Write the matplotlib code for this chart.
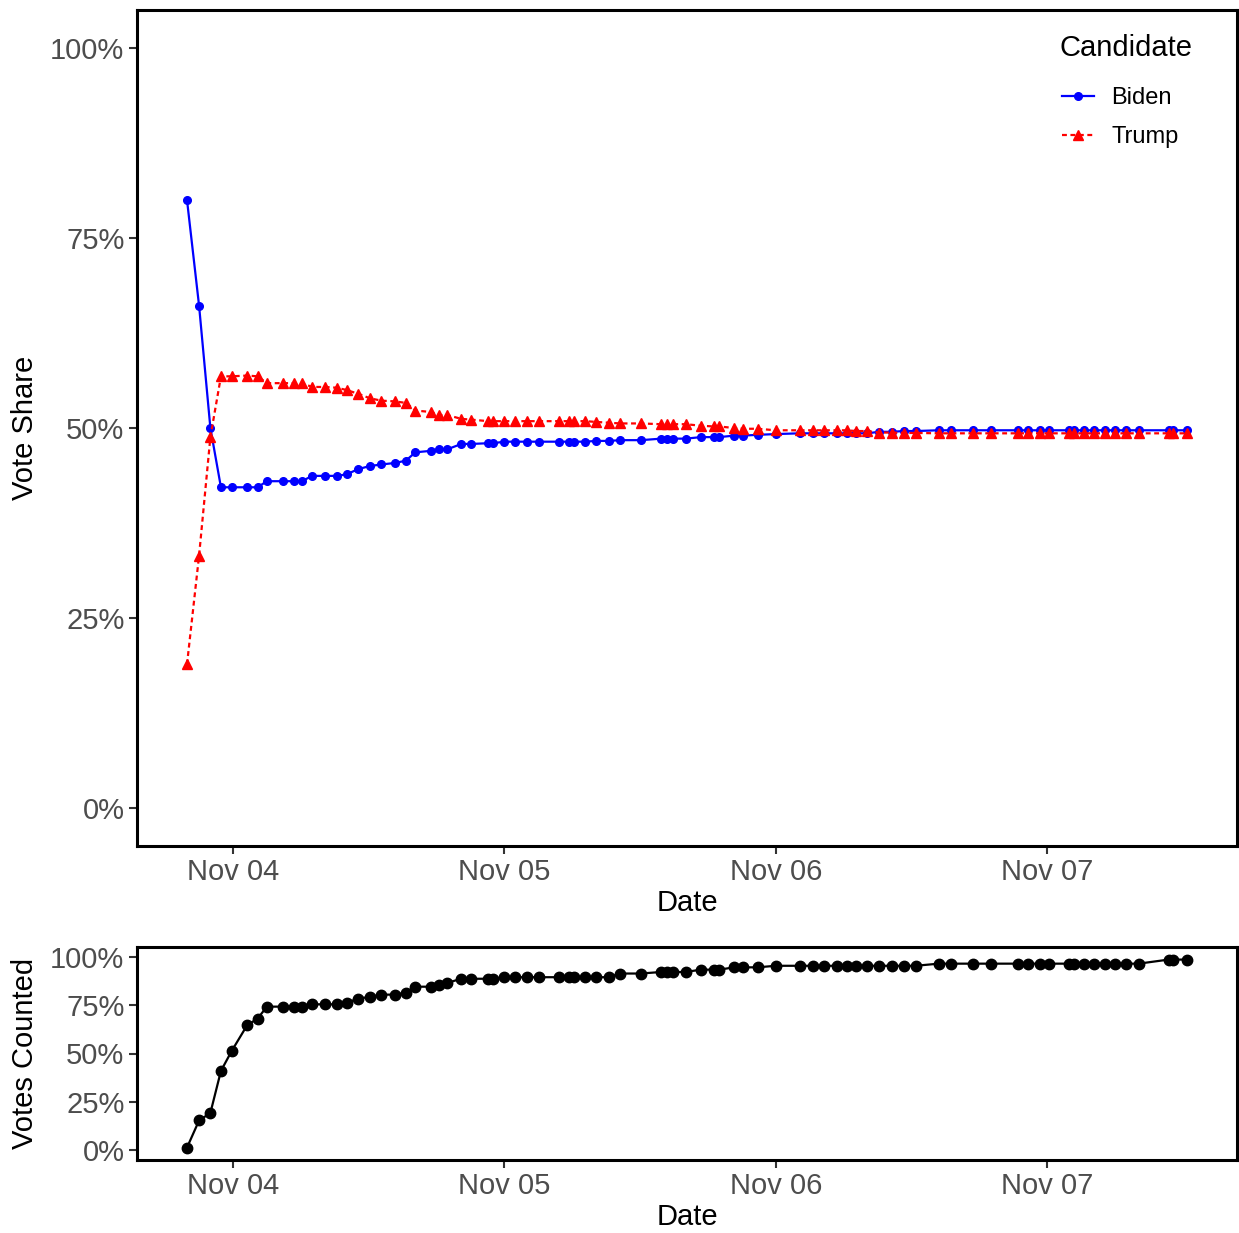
import numpy as np
import pandas as pd
import matplotlib
matplotlib.use("Agg")
import matplotlib.pyplot as plt
import matplotlib.dates as mdates
from matplotlib.ticker import FuncFormatter

plt.rcParams['font.family'] = ['Liberation Sans', 'DejaVu Sans']

# reporting timestamps
times = [
    "2020-11-03 19:56", "2020-11-03 21:00", "2020-11-03 22:00", "2020-11-03 22:56",
    "2020-11-03 23:53", "2020-11-04 01:15", "2020-11-04 02:10", "2020-11-04 03:00",
    "2020-11-04 04:25", "2020-11-04 05:25", "2020-11-04 06:05", "2020-11-04 07:00",
    "2020-11-04 08:07", "2020-11-04 09:11", "2020-11-04 10:02", "2020-11-04 11:05",
    "2020-11-04 12:07", "2020-11-04 13:07", "2020-11-04 14:19", "2020-11-04 15:17",
    "2020-11-04 16:07", "2020-11-04 17:32", "2020-11-04 18:12", "2020-11-04 18:57",
    "2020-11-04 20:11", "2020-11-04 21:04", "2020-11-04 22:34", "2020-11-04 23:00",
    "2020-11-05 00:00", "2020-11-05 00:58", "2020-11-05 02:00", "2020-11-05 03:02",
    "2020-11-05 04:51", "2020-11-05 05:40", "2020-11-05 06:07", "2020-11-05 07:09",
    "2020-11-05 08:05", "2020-11-05 09:12", "2020-11-05 10:14", "2020-11-05 12:04",
    "2020-11-05 13:51", "2020-11-05 14:21", "2020-11-05 14:56", "2020-11-05 16:02",
    "2020-11-05 17:21", "2020-11-05 18:33", "2020-11-05 18:58", "2020-11-05 20:19",
    "2020-11-05 21:07", "2020-11-05 22:23", "2020-11-05 23:58", "2020-11-06 02:07",
    "2020-11-06 03:17", "2020-11-06 04:16", "2020-11-06 05:21", "2020-11-06 06:14",
    "2020-11-06 07:04", "2020-11-06 08:03", "2020-11-06 09:07", "2020-11-06 10:13",
    "2020-11-06 11:19", "2020-11-06 12:21", "2020-11-06 14:23", "2020-11-06 15:26",
    "2020-11-06 17:25", "2020-11-06 19:02", "2020-11-06 21:23", "2020-11-06 22:19",
    "2020-11-06 23:18", "2020-11-07 00:07", "2020-11-07 01:53", "2020-11-07 02:23",
    "2020-11-07 03:16", "2020-11-07 04:09", "2020-11-07 05:05", "2020-11-07 05:58",
    "2020-11-07 06:59", "2020-11-07 08:04", "2020-11-07 10:42", "2020-11-07 11:04",
    "2020-11-07 12:20",
]

# vote share (%)
biden = [
    80.0, 66.1, 50.0, 42.2, 42.2, 42.2, 42.2, 43.0, 43.0, 43.0,
    43.0, 43.7, 43.7, 43.7, 43.9, 44.6, 45.0, 45.2, 45.4, 45.7,
    46.8, 47.0, 47.2, 47.2, 47.9, 47.9, 48.0, 48.0, 48.2, 48.2,
    48.2, 48.2, 48.2, 48.2, 48.2, 48.2, 48.3, 48.3, 48.4, 48.4,
    48.6, 48.6, 48.6, 48.6, 48.8, 48.8, 48.8, 49.0, 49.0, 49.1,
    49.2, 49.3, 49.3, 49.3, 49.3, 49.3, 49.3, 49.3, 49.5, 49.5,
    49.6, 49.6, 49.7, 49.7, 49.7, 49.7, 49.7, 49.7, 49.7, 49.7,
    49.7, 49.7, 49.7, 49.7, 49.7, 49.7, 49.7, 49.7, 49.7, 49.7,
    49.7,
]
trump = [
    18.9, 33.2, 48.8, 56.8, 56.8, 56.9, 56.8, 55.9, 55.9, 55.9,
    55.9, 55.4, 55.4, 55.3, 55.0, 54.5, 53.9, 53.6, 53.5, 53.3,
    52.3, 52.1, 51.7, 51.7, 51.2, 51.1, 50.9, 50.9, 50.9, 50.9,
    50.9, 50.9, 50.9, 50.9, 50.9, 50.9, 50.8, 50.7, 50.6, 50.6,
    50.5, 50.5, 50.5, 50.5, 50.3, 50.2, 50.2, 50.0, 49.9, 49.9,
    49.7, 49.7, 49.7, 49.7, 49.7, 49.7, 49.6, 49.6, 49.4, 49.4,
    49.35, 49.35, 49.3, 49.3, 49.3, 49.3, 49.3, 49.3, 49.3, 49.3,
    49.3, 49.3, 49.3, 49.3, 49.3, 49.3, 49.3, 49.3, 49.3, 49.3,
    49.3,
]

# share of expected votes counted (%)
counted = [
    1.4, 15.4, 19.3, 41.0, 51.3, 64.6, 68.0, 74.2, 74.2, 74.2,
    74.2, 75.4, 75.4, 75.4, 76.3, 78.3, 79.3, 80.4, 80.4, 81.4,
    84.5, 84.5, 85.5, 86.5, 88.6, 88.6, 88.6, 88.6, 89.4, 89.4,
    89.4, 89.4, 89.4, 89.4, 89.4, 89.4, 89.4, 89.4, 91.3, 91.3,
    92.1, 92.1, 92.1, 92.1, 93.3, 93.3, 93.3, 94.5, 94.5, 94.5,
    95.3, 95.3, 95.3, 95.3, 95.3, 95.3, 95.3, 95.3, 95.3, 95.3,
    95.3, 95.3, 96.4, 96.4, 96.4, 96.4, 96.4, 96.4, 96.4, 96.4,
    96.4, 96.4, 96.4, 96.4, 96.4, 96.4, 96.4, 96.4, 98.5, 98.5,
    98.5,
]

tick_dates = ["2020-11-04", "2020-11-05", "2020-11-06", "2020-11-07"]

t = pd.to_datetime(times)
tnum = mdates.date2num(t)
span = tnum.max() - tnum.min()
xlim = (tnum.min() - 0.05 * span, tnum.max() + 0.05 * span)
ticks = mdates.date2num(pd.to_datetime(tick_dates))

W, H = 1239, 1233
fig = plt.figure(figsize=(W / 100, H / 100), dpi=100)

def px_axes(x0, y0, x1, y1):
    return fig.add_axes([x0 / W, 1 - y1 / H, (x1 - x0) / W, (y1 - y0) / H])

pct = FuncFormatter(lambda v, p: f"{v:.0f}%")

def style(ax, ylabel):
    ax.set_xlim(*xlim)
    ax.set_ylim(-5, 105)
    ax.set_xticks(ticks)
    ax.xaxis.set_major_formatter(mdates.DateFormatter("%b %d"))
    ax.set_yticks([0, 25, 50, 75, 100])
    ax.yaxis.set_major_formatter(pct)
    ax.tick_params(length=6, width=1.5, color='#333333', labelcolor='#4D4D4D',
                   labelsize=21, pad=3)
    for s in ax.spines.values():
        s.set_linewidth(2.2)
        s.set_color('black')
    ax.set_xlabel("Date", fontsize=21, labelpad=2)
    ax.set_ylabel(ylabel, fontsize=21, labelpad=8)

ax1 = px_axes(137, 10, 1237, 846)
ax1.plot(t, biden, color='blue', lw=1.6, marker='o', ms=5.5, label='Biden')
ax1.plot(t, trump, color='red', lw=1.6, ls=(0, (2.2, 1.6)), marker='^', ms=7,
         label='Trump')
style(ax1, "Vote Share")

# legend title placed separately so the gap matches
ax1.text(0.839, 0.954, "Candidate", transform=ax1.transAxes, fontsize=21,
         ha='left', va='center')
ax1.legend(loc='upper left', bbox_to_anchor=(0.8409, 0.908), frameon=False,
           fontsize=17, handlelength=1.35, labelspacing=0.72, handletextpad=0.75,
           borderpad=0, borderaxespad=0)

ax2 = px_axes(137, 947, 1237, 1160)
ax2.plot(t, counted, color='black', lw=1.6, marker='o', ms=7.5)
style(ax2, "Votes Counted")

fig.savefig("out.png", dpi=100)
